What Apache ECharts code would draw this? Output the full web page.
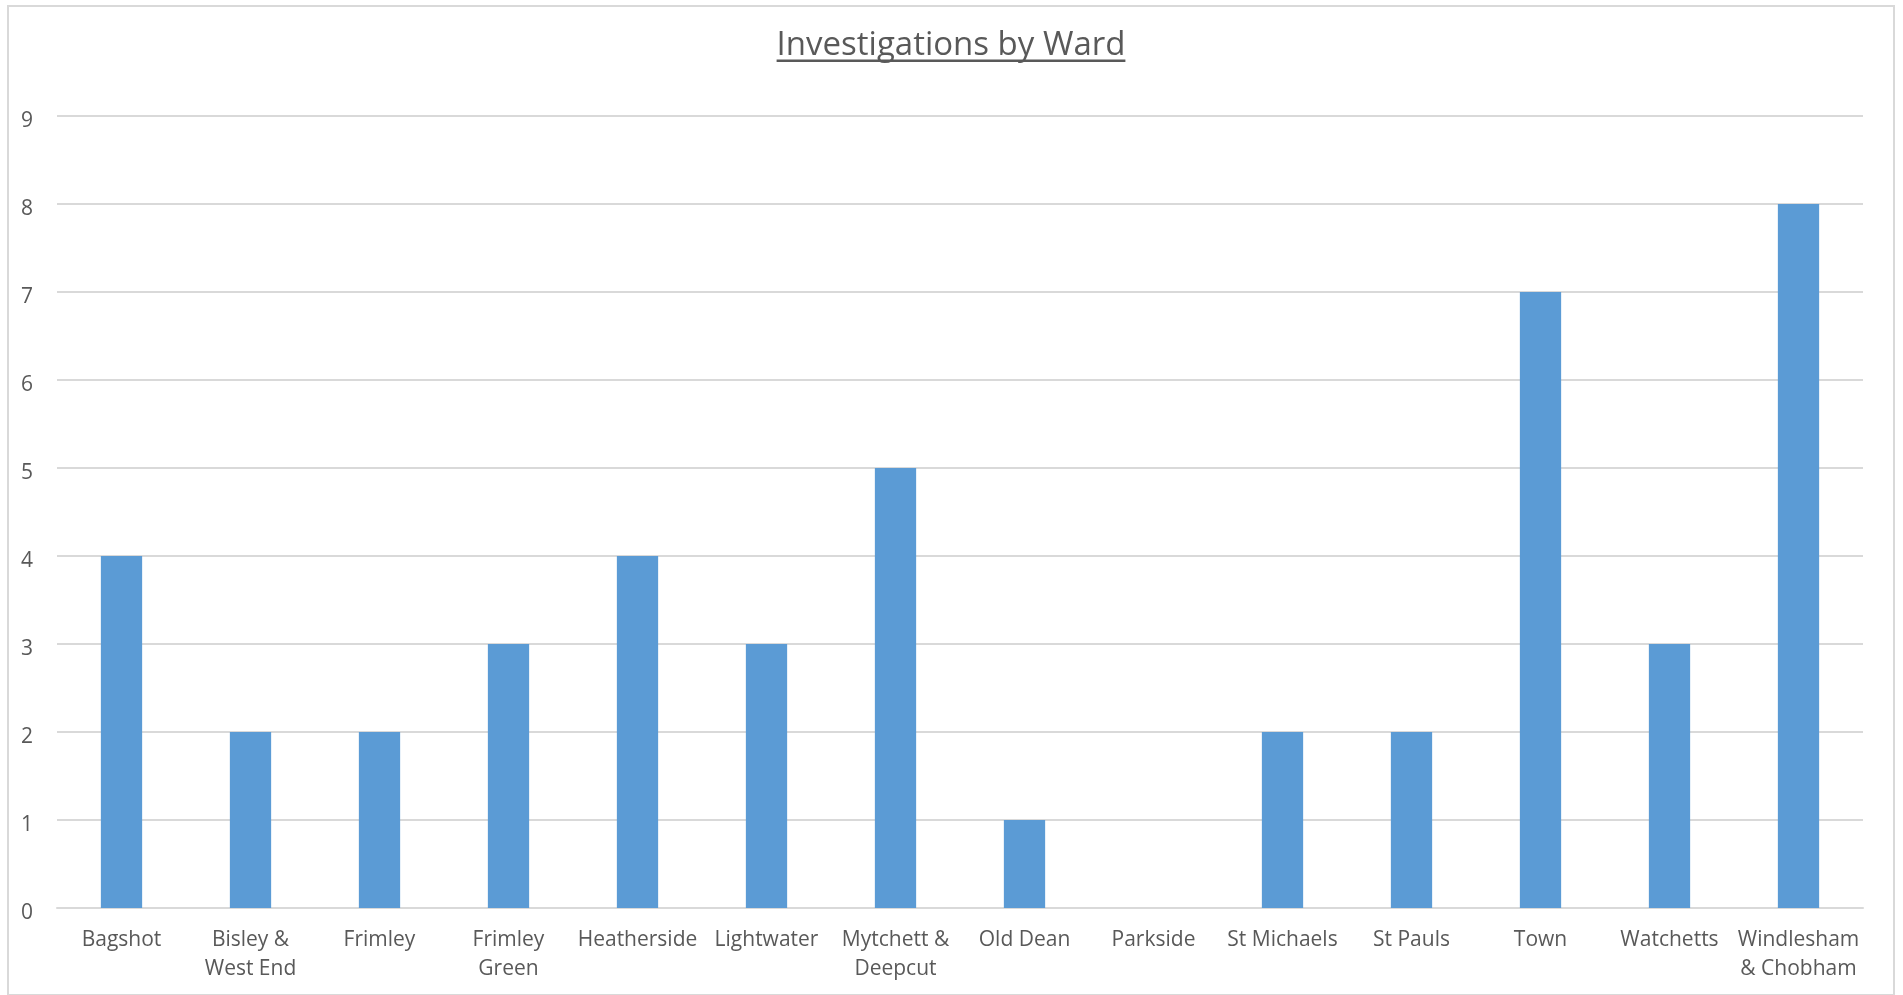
<!DOCTYPE html>
<html>
<head>
<meta charset="utf-8">
<script src="https://cdn.jsdelivr.net/npm/echarts@6/dist/echarts.min.js"></script>
<style>
html,body{margin:0;padding:0;background:#fff;}
#chart{width:1903px;height:995px;}
</style>
</head>
<body>
<div id="chart"></div>
<script>
const titleText = 'Investigations by Ward';
const categories = ['Bagshot', 'Bisley &\nWest End', 'Frimley', 'Frimley\nGreen', 'Heatherside', 'Lightwater', 'Mytchett &\nDeepcut', 'Old Dean', 'Parkside', 'St Michaels', 'St Pauls', 'Town', 'Watchetts', 'Windlesham\n& Chobham'];
const values = [4, 2, 2, 3, 4, 3, 5, 1, 0, 2, 2, 7, 3, 8];
const yMin = 0, yMax = 9, yStep = 1;

const FONT = '"Open Sans", sans-serif';
const TEXT = '#595959';
const GRID = '#d9d9d9';

const titleSize = 33;
const cv = document.createElement('canvas').getContext('2d');
cv.font = titleSize + 'px "Open Sans"';
const tw = cv.measureText(titleText).width;
const tcx = 951;

const chart = echarts.init(document.getElementById('chart'), null, {renderer: 'canvas'});
chart.setOption({
  backgroundColor: '#ffffff',
  animation: false,
  grid: {left: 57, right: 40, top: 116, bottom: 87, containLabel: false},
  graphic: [
    {type: 'rect', silent: true, z: -1, shape: {x: 8, y: 6, width: 1886, height: 989},
     style: {fill: 'none', stroke: GRID, lineWidth: 2}},
    {type: 'text', silent: true, style: {x: tcx, y: 45.5, text: titleText, align: 'center', verticalAlign: 'middle',
      font: titleSize + 'px ' + FONT, fill: TEXT}},
    {type: 'rect', silent: true, shape: {x: tcx - tw / 2, y: 59.5, width: tw, height: 2.5},
     style: {fill: TEXT}}
  ],
  xAxis: {
    type: 'category',
    data: categories,
    axisLine: {show: true, lineStyle: {color: GRID, width: 2}},
    axisTick: {show: false},
    axisLabel: {interval: 0, color: TEXT, fontFamily: FONT, fontSize: 21, lineHeight: 29, margin: 18}
  },
  yAxis: {
    type: 'value',
    min: yMin, max: yMax, interval: yStep,
    axisLine: {show: false},
    axisTick: {show: false},
    splitLine: {lineStyle: {color: GRID, width: 2}},
    axisLabel: {color: TEXT, fontFamily: FONT, fontSize: 21, margin: 24, verticalAlign: 'top', lineHeight: 11}
  },
  series: [{
    type: 'bar',
    data: values,
    barWidth: '32%',
    itemStyle: {color: '#5b9bd5'}
  }]
});
</script>
</body>
</html>
